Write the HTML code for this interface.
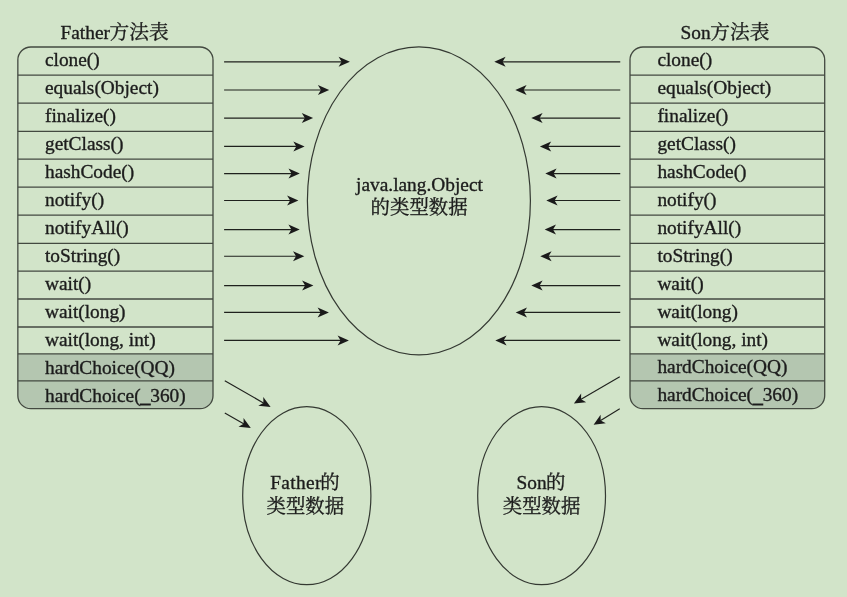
<!DOCTYPE html>
<html lang="zh"><head><meta charset="utf-8"><title>方法表</title>
<style>
html,body{margin:0;padding:0}
body{width:847px;height:597px;overflow:hidden;background:#d2e4c9;position:relative;font-family:"Liberation Serif","Noto Serif CJK SC",serif;font-size:19.35px;color:#1c1c1c;-webkit-text-stroke:0.35px #1c1c1c}
.tbl{position:absolute;box-sizing:border-box}
.row{position:absolute;left:0;right:0;box-sizing:border-box}
.row span{position:absolute;top:50%;transform:translateY(-50%);white-space:nowrap;line-height:1}
.us{font-style:normal;position:relative;top:1.6px;-webkit-text-stroke:0.9px #1c1c1c}
.lbl{position:absolute;white-space:nowrap;line-height:1;text-align:center}
.cj{font-size:19.4px}
.ct{font-size:19.7px}
.k2{margin-left:-0.4px}
.k3{margin-left:-0.7px}
.k{margin-left:-1.6px}
.ls{letter-spacing:0.37px}
#stage{position:absolute;left:0;top:0;width:847px;height:597px;will-change:transform}
#art{position:absolute;left:0;top:0}
#art ellipse{fill:none;stroke:#343932;stroke-width:1.2}
#art line{stroke:#1f211d;stroke-width:1.15}
#art line.dg{stroke-width:1.15;stroke:#1f211d}
#art polygon{fill:#1a1a1a}
#art .tl{fill:none;stroke:#434940;stroke-width:1.3}
#art .sh{fill:#b4c6b0;stroke:none}
</style></head><body>
<div id="stage">
<div class="lbl" style="left:60.5px;top:22.5px">Father<span class="k2 ct">方法表</span></div>
<div class="lbl" style="left:680.6px;top:22.5px">Son<span class="k2 ct">方法表</span></div>
<svg id="art" width="847" height="597" viewBox="0 0 847 597">
<clipPath id="cl"><rect x="17.85" y="47.00" width="195.15" height="361.70" rx="13" ry="13"/></clipPath>
<rect class="sh" clip-path="url(#cl)" x="17.85" y="353.80" width="195.15" height="54.90"/>
<path class="tl" d="M17.85 75.10H213.00"/>
<path class="tl" d="M17.85 103.20H213.00"/>
<path class="tl" d="M17.85 131.30H213.00"/>
<path class="tl" d="M17.85 159.20H213.00"/>
<path class="tl" d="M17.85 187.20H213.00"/>
<path class="tl" d="M17.85 215.20H213.00"/>
<path class="tl" d="M17.85 243.30H213.00"/>
<path class="tl" d="M17.85 271.10H213.00"/>
<path class="tl" d="M17.85 299.00H213.00"/>
<path class="tl" d="M17.85 327.00H213.00"/>
<path class="tl" d="M17.85 353.80H213.00"/>
<path class="tl" d="M17.85 380.90H213.00"/>
<rect class="tl" x="17.85" y="47.00" width="195.15" height="361.70" rx="13" ry="13"/>
<clipPath id="cr"><rect x="630.00" y="47.00" width="194.70" height="361.70" rx="13" ry="13"/></clipPath>
<rect class="sh" clip-path="url(#cr)" x="630.00" y="353.80" width="194.70" height="54.90"/>
<path class="tl" d="M630.00 75.10H824.70"/>
<path class="tl" d="M630.00 103.20H824.70"/>
<path class="tl" d="M630.00 131.30H824.70"/>
<path class="tl" d="M630.00 159.20H824.70"/>
<path class="tl" d="M630.00 187.20H824.70"/>
<path class="tl" d="M630.00 215.20H824.70"/>
<path class="tl" d="M630.00 243.30H824.70"/>
<path class="tl" d="M630.00 271.10H824.70"/>
<path class="tl" d="M630.00 299.00H824.70"/>
<path class="tl" d="M630.00 327.00H824.70"/>
<path class="tl" d="M630.00 353.80H824.70"/>
<path class="tl" d="M630.00 380.90H824.70"/>
<rect class="tl" x="630.00" y="47.00" width="194.70" height="361.70" rx="13" ry="13"/>
<ellipse cx="418.9" cy="200.85" rx="111.5" ry="153.95"/>
<ellipse cx="306.8" cy="495.7" rx="64.1" ry="89.0"/>
<ellipse cx="541.6" cy="495.7" rx="63.9" ry="89.0"/>
<line x1="224.10" y1="61.85" x2="342.10" y2="61.85"/><polygon points="349.90,61.85 338.60,66.85 341.60,61.85 338.60,56.85"/>
<line x1="620.25" y1="61.85" x2="502.10" y2="61.85"/><polygon points="494.30,61.85 505.60,56.85 502.60,61.85 505.60,66.85"/>
<line x1="224.10" y1="90.00" x2="321.40" y2="90.00"/><polygon points="329.20,90.00 317.90,95.00 320.90,90.00 317.90,85.00"/>
<line x1="620.25" y1="90.00" x2="523.10" y2="90.00"/><polygon points="515.30,90.00 526.60,85.00 523.60,90.00 526.60,95.00"/>
<line x1="224.10" y1="118.05" x2="305.30" y2="118.05"/><polygon points="313.10,118.05 301.80,123.05 304.80,118.05 301.80,113.05"/>
<line x1="620.25" y1="118.05" x2="539.10" y2="118.05"/><polygon points="531.30,118.05 542.60,113.05 539.60,118.05 542.60,123.05"/>
<line x1="224.10" y1="146.40" x2="296.80" y2="146.40"/><polygon points="304.60,146.40 293.30,151.40 296.30,146.40 293.30,141.40"/>
<line x1="620.25" y1="146.40" x2="547.70" y2="146.40"/><polygon points="539.90,146.40 551.20,141.40 548.20,146.40 551.20,151.40"/>
<line x1="224.10" y1="173.55" x2="292.00" y2="173.55"/><polygon points="299.80,173.55 288.50,178.55 291.50,173.55 288.50,168.55"/>
<line x1="620.25" y1="173.55" x2="553.10" y2="173.55"/><polygon points="545.30,173.55 556.60,168.55 553.60,173.55 556.60,178.55"/>
<line x1="224.10" y1="200.45" x2="290.60" y2="200.45"/><polygon points="298.40,200.45 287.10,205.45 290.10,200.45 287.10,195.45"/>
<line x1="620.25" y1="200.45" x2="554.10" y2="200.45"/><polygon points="546.30,200.45 557.60,195.45 554.60,200.45 557.60,205.45"/>
<line x1="224.10" y1="229.55" x2="291.90" y2="229.55"/><polygon points="299.70,229.55 288.40,234.55 291.40,229.55 288.40,224.55"/>
<line x1="620.25" y1="229.55" x2="552.50" y2="229.55"/><polygon points="544.70,229.55 556.00,224.55 553.00,229.55 556.00,234.55"/>
<line x1="224.10" y1="256.20" x2="296.50" y2="256.20"/><polygon points="304.30,256.20 293.00,261.20 296.00,256.20 293.00,251.20"/>
<line x1="620.25" y1="256.20" x2="548.10" y2="256.20"/><polygon points="540.30,256.20 551.60,251.20 548.60,256.20 551.60,261.20"/>
<line x1="224.10" y1="285.55" x2="305.60" y2="285.55"/><polygon points="313.40,285.55 302.10,290.55 305.10,285.55 302.10,280.55"/>
<line x1="620.25" y1="285.55" x2="539.10" y2="285.55"/><polygon points="531.30,285.55 542.60,280.55 539.60,285.55 542.60,290.55"/>
<line x1="224.10" y1="312.40" x2="321.10" y2="312.40"/><polygon points="328.90,312.40 317.60,317.40 320.60,312.40 317.60,307.40"/>
<line x1="620.25" y1="312.40" x2="523.50" y2="312.40"/><polygon points="515.70,312.40 527.00,307.40 524.00,312.40 527.00,317.40"/>
<line x1="224.10" y1="340.40" x2="341.10" y2="340.40"/><polygon points="348.90,340.40 337.60,345.40 340.60,340.40 337.60,335.40"/>
<line x1="620.25" y1="340.40" x2="503.10" y2="340.40"/><polygon points="495.30,340.40 506.60,335.40 503.60,340.40 506.60,345.40"/>
<line class="dg" x1="224.80" y1="380.80" x2="263.83" y2="403.13"/><polygon points="270.60,407.00 258.31,405.73 263.40,402.88 263.27,397.05"/>
<line class="dg" x1="224.80" y1="412.90" x2="244.06" y2="424.08"/><polygon points="250.80,428.00 238.52,426.65 243.62,423.83 243.54,418.00"/>
<line class="dg" x1="619.75" y1="376.85" x2="580.64" y2="399.62"/><polygon points="573.90,403.55 581.15,393.54 581.07,399.37 586.18,402.18"/>
<line class="dg" x1="619.75" y1="408.70" x2="600.24" y2="420.75"/><polygon points="593.60,424.85 600.59,414.66 600.66,420.49 605.84,423.17"/>
</svg>
<div class="tbl l" style="left:17.30px;top:46.20px;width:195.90px;height:363.30px">
<div class="row" style="top:0.00px;height:28.10px"><span style="left:27.70px">clone()</span></div>
<div class="row" style="top:28.10px;height:28.10px"><span style="left:27.70px">equals(Object)</span></div>
<div class="row" style="top:56.20px;height:28.10px"><span style="left:27.70px">finalize()</span></div>
<div class="row" style="top:84.30px;height:27.90px"><span style="left:27.70px">getClass()</span></div>
<div class="row" style="top:112.20px;height:28.00px"><span style="left:27.70px">hashCode()</span></div>
<div class="row" style="top:140.20px;height:28.00px"><span style="left:27.70px">notify()</span></div>
<div class="row" style="top:168.20px;height:28.10px"><span style="left:27.70px">notifyAll()</span></div>
<div class="row" style="top:196.30px;height:27.80px"><span style="left:27.70px">toString()</span></div>
<div class="row" style="top:224.10px;height:27.90px"><span style="left:27.70px">wait()</span></div>
<div class="row" style="top:252.00px;height:28.00px"><span style="left:27.70px">wait(long)</span></div>
<div class="row" style="top:280.00px;height:26.80px"><span style="left:27.70px">wait(long, int)</span></div>
<div class="row" style="top:307.90px;height:27.10px"><span style="left:27.70px">hardChoice(QQ)</span></div>
<div class="row" style="top:335.50px;height:27.80px"><span style="left:27.70px">hardChoice(<i class="us">_</i>360)</span></div>
</div>
<div class="tbl r" style="left:629.35px;top:46.20px;width:196.15px;height:363.30px">
<div class="row" style="top:0.00px;height:28.10px"><span style="left:28.05px">clone()</span></div>
<div class="row" style="top:28.10px;height:28.10px"><span style="left:28.05px">equals(Object)</span></div>
<div class="row" style="top:56.20px;height:28.10px"><span style="left:28.05px">finalize()</span></div>
<div class="row" style="top:84.30px;height:27.90px"><span style="left:28.05px">getClass()</span></div>
<div class="row" style="top:112.20px;height:28.00px"><span style="left:28.05px">hashCode()</span></div>
<div class="row" style="top:140.20px;height:28.00px"><span style="left:28.05px">notify()</span></div>
<div class="row" style="top:168.20px;height:28.10px"><span style="left:28.05px">notifyAll()</span></div>
<div class="row" style="top:196.30px;height:27.80px"><span style="left:28.05px">toString()</span></div>
<div class="row" style="top:224.10px;height:27.90px"><span style="left:28.05px">wait()</span></div>
<div class="row" style="top:252.00px;height:28.00px"><span style="left:28.05px">wait(long)</span></div>
<div class="row" style="top:280.00px;height:26.80px"><span style="left:28.05px">wait(long, int)</span></div>
<div class="row" style="top:307.40px;height:27.10px"><span style="left:28.05px">hardChoice(QQ)</span></div>
<div class="row" style="top:335.00px;height:27.80px"><span style="left:28.05px">hardChoice(<i class="us">_</i>360)</span></div>
</div>
<div class="lbl" style="left:319.5px;width:200px;top:174.5px">java.lang.Object</div>
<div class="lbl" style="left:319.1px;width:200px;top:197.9px"><span class="cj">的类型数据</span></div>
<div class="lbl" style="left:204.9px;width:200px;top:472.9px"><span class="ls">Father</span><span class="k cj">的</span></div>
<div class="lbl" style="left:205.3px;width:200px;top:496.6px"><span class="cj">类型数据</span></div>
<div class="lbl" style="left:441.0px;width:200px;top:472.9px">Son<span class="k3 cj">的</span></div>
<div class="lbl" style="left:441.6px;width:200px;top:496.6px"><span class="cj">类型数据</span></div>
</div>
</body></html>
